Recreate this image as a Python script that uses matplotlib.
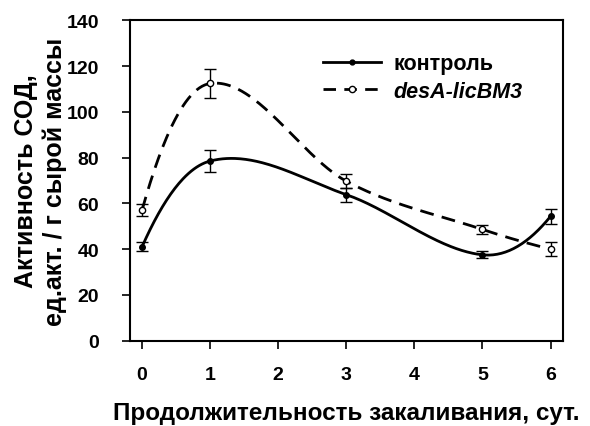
import numpy as np
import matplotlib.pyplot as plt

plt.rcParams['font.family'] = ['Liberation Sans', 'DejaVu Sans']
plt.rcParams['font.weight'] = 'bold'
plt.rcParams['axes.labelweight'] = 'bold'

days = [0, 1, 3, 5, 6]
control = [41, 78.5, 63.8, 37.5, 54.3]
control_err = [2.0, 5.0, 3.0, 1.5, 3.3]
mutant = [57, 112.4, 69.7, 48.6, 40]
mutant_err = [2.7, 6.5, 3.0, 2.0, 3.0]


def smooth_curve(x, y, xs):
    # cardinal (Catmull-Rom style) Hermite curve through the points
    x = np.asarray(x, float)
    y = np.asarray(y, float)
    n = len(x)
    m = np.zeros(n)
    for i in range(1, n - 1):
        m[i] = (y[i + 1] - y[i - 1]) / (x[i + 1] - x[i - 1])
    m[0] = 2 * (y[1] - y[0]) / (x[1] - x[0]) - m[1]
    m[-1] = 2 * (y[-1] - y[-2]) / (x[-1] - x[-2]) - m[-2]
    out = np.empty_like(xs)
    for k, t in enumerate(xs):
        i = min(max(np.searchsorted(x, t, side='right') - 1, 0), n - 2)
        h = x[i + 1] - x[i]
        s = (t - x[i]) / h
        h00 = 2 * s ** 3 - 3 * s ** 2 + 1
        h10 = s ** 3 - 2 * s ** 2 + s
        h01 = -2 * s ** 3 + 3 * s ** 2
        h11 = s ** 3 - s ** 2
        out[k] = h00 * y[i] + h10 * h * m[i] + h01 * y[i + 1] + h11 * h * m[i + 1]
    return out


fig = plt.figure(figsize=(5.9, 4.27), dpi=100)
ax = fig.add_axes([0.22, 0.2, 0.735, 0.75])

xs = np.linspace(0, 6, 300)
ax.plot(xs, smooth_curve(days, control, xs), color='black', lw=2)
ax.plot(xs, smooth_curve(days, mutant, xs), color='black', lw=2, ls=(0, (5, 3)))

ax.errorbar(days, control, yerr=control_err, fmt='o', ms=4, color='black',
            mfc='black', ecolor='black', elinewidth=1, capsize=4)
ax.errorbar(days, mutant, yerr=mutant_err, fmt='o', ms=4.5, color='black',
            mfc='white', ecolor='black', elinewidth=1, capsize=4)

h1, = ax.plot([], [], color='black', lw=2, marker='o', ms=3.5, mfc='black')
h2, = ax.plot([], [], color='black', lw=2, ls=(0, (4.5, 3)), marker='o', ms=4.5, mfc='white')
ax.legend([h1, h2], ['контроль', 'desA-licBM3'], loc='upper left',
          bbox_to_anchor=(0.4, 0.958), frameon=False, fontsize=15.5,
          handlelength=2.7, handletextpad=0.6, labelspacing=0.3)
leg = ax.get_legend()
leg.get_texts()[1].set_style('italic')

ax.set_xlim(-0.18, 6.19)
ax.set_ylim(0, 140)
ax.set_xticks([0, 1, 2, 3, 4, 5, 6])
ax.set_yticks(range(0, 141, 20))
ax.tick_params(labelsize=14, width=1.2, length=6, direction='out')
ax.tick_params(axis='x', pad=12)
ax.tick_params(axis='y', pad=16)
ax.tick_params(top=False, right=False)
for s in ax.spines.values():
    s.set_linewidth(1.5)

ax.set_xlabel('Продолжительность закаливания, сут.', fontsize=17.5, labelpad=13)
ax.set_ylabel('Активность СОД,\nед.акт. / г сырой массы', fontsize=18, labelpad=0)

fig.savefig('out.png', dpi=100)
